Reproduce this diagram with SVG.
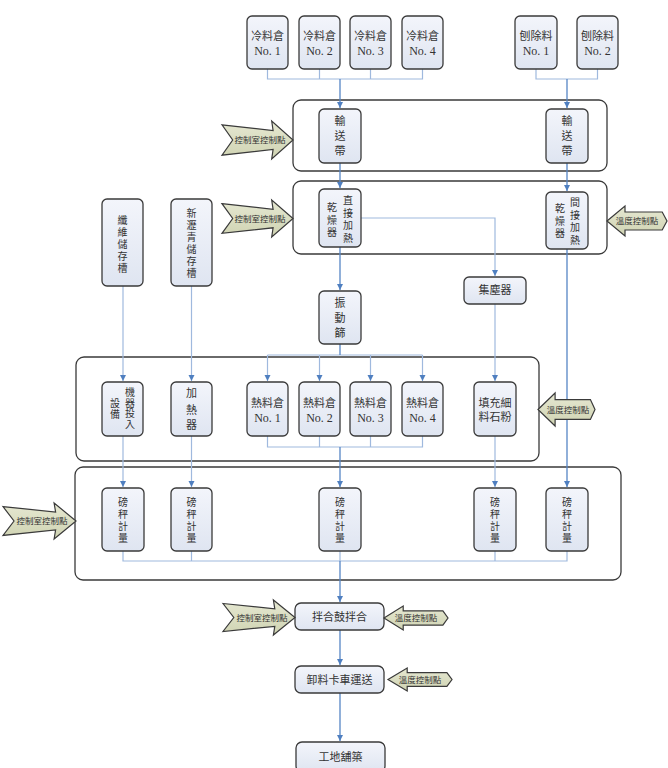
<svg xmlns="http://www.w3.org/2000/svg" width="668" height="768" viewBox="0 0 668 768">
<defs>
<linearGradient id="ng" x1="0" y1="0" x2="0" y2="1"><stop offset="0" stop-color="#f3f5fb"/><stop offset="1" stop-color="#dfe5f1"/></linearGradient>
<linearGradient id="ag" x1="0" y1="0" x2="0" y2="1"><stop offset="0" stop-color="#e6e8d2"/><stop offset="1" stop-color="#cfd3b2"/></linearGradient>
<marker id="ah" markerWidth="7" markerHeight="7" refX="6" refY="3.5" orient="auto" markerUnits="userSpaceOnUse"><path d="M0,0.5 L6,3.5 L0,6.5 Z" fill="#4f7fc0"/></marker>
</defs>
<style>
.frame{fill:#fff;stroke:#3a3a3a;stroke-width:1.3}
.node{fill:url(#ng);stroke:#3a3a3a;stroke-width:1.3}
.t{font-family:"Liberation Serif","Noto Sans CJK TC",serif;font-size:11px;fill:#333;text-anchor:middle}
.s{font-size:10px}
.ar{fill:url(#ag);stroke:#3a3a3a;stroke-width:1.2}
.at{font-family:"Noto Sans CJK TC",sans-serif;font-size:8.5px;fill:#333;text-anchor:middle}
.c{fill:none;stroke:#5585c5;stroke-width:1.3}
.b{fill:none;stroke:#9fb9de;stroke-width:1.2}
</style>
<rect width="668" height="768" fill="#fff"/>
<g id="frames">
<rect class="frame" x="293" y="100" width="314" height="71" rx="8"/>
<rect class="frame" x="293" y="181" width="314" height="73" rx="8"/>
<rect class="frame" x="76" y="357" width="463" height="104" rx="8"/>
<rect class="frame" x="75" y="467" width="546" height="113" rx="8"/>
</g>
<g id="connectors">
<path class="b" d="M267.5,69 V79 H422.5 V69 M319.5,69 V79 M370.5,69 V79"/>
<path class="b" d="M536,69 V79 H597.5 V69"/>
<path class="b" d="M267.5,355 H422.5"/>
<path class="b" d="M267.5,436 V447 H422.5 V436 M319.5,436 V447 M370.5,436 V447"/>
<path class="b" d="M123,551 V561 H567 V551 M191.5,551 V561 M340,551 V561 M495,551 V561"/>
<path class="b" d="M361,218 H495 V276" marker-end="url(#ah)"/>
<path class="c" d="M340,79 V108" marker-end="url(#ah)"/>
<path class="c" d="M567,79 V108" marker-end="url(#ah)"/>
<path class="c" d="M340,163 V188" marker-end="url(#ah)"/>
<path class="c" d="M567,163 V191" marker-end="url(#ah)"/>
<path class="c" d="M340,247 V290" marker-end="url(#ah)"/>
<path class="c" d="M340,344 V355"/>
<path class="b" d="M267.5,355 V381" marker-end="url(#ah)"/>
<path class="b" d="M319.5,355 V381" marker-end="url(#ah)"/>
<path class="b" d="M370.5,355 V381" marker-end="url(#ah)"/>
<path class="b" d="M422.5,355 V381" marker-end="url(#ah)"/>
<path class="b" d="M123,286 V381" marker-end="url(#ah)"/>
<path class="b" d="M191.5,286 V381" marker-end="url(#ah)"/>
<path class="b" d="M495,304 V381" marker-end="url(#ah)"/>
<path class="c" d="M567,249 V487" marker-end="url(#ah)"/>
<path class="b" d="M123,436 V487" marker-end="url(#ah)"/>
<path class="b" d="M191.5,436 V487" marker-end="url(#ah)"/>
<path class="c" d="M340,447 V487" marker-end="url(#ah)"/>
<path class="b" d="M495,436 V487" marker-end="url(#ah)"/>
<path class="c" d="M340,561 V602" marker-end="url(#ah)"/>
<path class="c" d="M340,630 V665" marker-end="url(#ah)"/>
<path class="c" d="M340,693 V741" marker-end="url(#ah)"/>
</g>
<g id="cold1"><rect class="node" x="247" y="16" width="41" height="53" rx="5"/><text class="t" x="267.5" y="40">冷料倉</text><text class="t" x="267.5" y="55" style="font-size:12px">No. 1</text></g>
<g id="cold2"><rect class="node" x="299" y="16" width="41" height="53" rx="5"/><text class="t" x="319.5" y="40">冷料倉</text><text class="t" x="319.5" y="55" style="font-size:12px">No. 2</text></g>
<g id="cold3"><rect class="node" x="350" y="16" width="41" height="53" rx="5"/><text class="t" x="370.5" y="40">冷料倉</text><text class="t" x="370.5" y="55" style="font-size:12px">No. 3</text></g>
<g id="cold4"><rect class="node" x="402" y="16" width="41" height="53" rx="5"/><text class="t" x="422.5" y="40">冷料倉</text><text class="t" x="422.5" y="55" style="font-size:12px">No. 4</text></g>
<g id="rap1"><rect class="node" x="515" y="16" width="42" height="53" rx="5"/><text class="t" x="536" y="40">刨除料</text><text class="t" x="536" y="55" style="font-size:12px">No. 1</text></g>
<g id="rap2"><rect class="node" x="577" y="16" width="41" height="53" rx="5"/><text class="t" x="597.5" y="40">刨除料</text><text class="t" x="597.5" y="55" style="font-size:12px">No. 2</text></g>
<g id="conv1"><rect class="node" x="319" y="109" width="42" height="54" rx="5"/><text class="t" x="340" y="125">輸</text><text class="t" x="340" y="140">送</text><text class="t" x="340" y="155">帶</text></g>
<g id="conv2"><rect class="node" x="546" y="109" width="42" height="54" rx="5"/><text class="t" x="567" y="125">輸</text><text class="t" x="567" y="140">送</text><text class="t" x="567" y="155">帶</text></g>
<g id="dryer1"><rect class="node" x="319" y="189" width="42" height="58" rx="5"/><text class="t s" x="348" y="204">直</text><text class="t s" x="348" y="216.5">接</text><text class="t s" x="348" y="229">加</text><text class="t s" x="348" y="241.5">熱</text><text class="t s" x="332" y="211">乾</text><text class="t s" x="332" y="223.5">燥</text><text class="t s" x="332" y="236">器</text></g>
<g id="dryer2"><rect class="node" x="546" y="192" width="42" height="57" rx="5"/><text class="t s" x="575" y="206">間</text><text class="t s" x="575" y="218.5">接</text><text class="t s" x="575" y="231">加</text><text class="t s" x="575" y="243.5">熱</text><text class="t s" x="560" y="212">乾</text><text class="t s" x="560" y="224.5">燥</text><text class="t s" x="560" y="237">器</text></g>
<g id="fiber"><rect class="node" x="102" y="199" width="41" height="87" rx="5"/><text class="t s" x="122.5" y="224">纖</text><text class="t s" x="122.5" y="236">維</text><text class="t s" x="122.5" y="248">儲</text><text class="t s" x="122.5" y="260">存</text><text class="t s" x="122.5" y="272">槽</text></g>
<g id="asphalt"><rect class="node" x="171" y="199" width="41" height="87" rx="5"/><text class="t s" x="191.5" y="217">新</text><text class="t s" x="191.5" y="229">瀝</text><text class="t s" x="191.5" y="241">青</text><text class="t s" x="191.5" y="253">儲</text><text class="t s" x="191.5" y="265">存</text><text class="t s" x="191.5" y="277">槽</text></g>
<g id="screen"><rect class="node" x="319" y="291" width="42" height="53" rx="5"/><text class="t" x="340" y="307">振</text><text class="t" x="340" y="322">動</text><text class="t" x="340" y="337">篩</text></g>
<g id="dust"><rect class="node" x="464" y="277" width="62" height="27" rx="5"/><text class="t" x="495" y="294">集塵器</text></g>
<g id="feeder"><rect class="node" x="102" y="382" width="41" height="54" rx="5"/><text class="t s" x="130" y="396">機</text><text class="t s" x="130" y="406.5">器</text><text class="t s" x="130" y="417">投</text><text class="t s" x="130" y="428">入</text><text class="t s" x="115" y="407">設</text><text class="t s" x="115" y="418">備</text></g>
<g id="heater"><rect class="node" x="171" y="382" width="41" height="54" rx="5"/><text class="t" x="191.5" y="397">加</text><text class="t" x="191.5" y="414">熱</text><text class="t" x="191.5" y="429">器</text></g>
<g id="hot1"><rect class="node" x="247" y="382" width="41" height="54" rx="5"/><text class="t" x="267.5" y="407">熱料倉</text><text class="t" x="267.5" y="422" style="font-size:12px">No. 1</text></g>
<g id="hot2"><rect class="node" x="299" y="382" width="41" height="54" rx="5"/><text class="t" x="319.5" y="407">熱料倉</text><text class="t" x="319.5" y="422" style="font-size:12px">No. 2</text></g>
<g id="hot3"><rect class="node" x="350" y="382" width="41" height="54" rx="5"/><text class="t" x="370.5" y="407">熱料倉</text><text class="t" x="370.5" y="422" style="font-size:12px">No. 3</text></g>
<g id="hot4"><rect class="node" x="402" y="382" width="41" height="54" rx="5"/><text class="t" x="422.5" y="407">熱料倉</text><text class="t" x="422.5" y="422" style="font-size:12px">No. 4</text></g>
<g id="filler"><rect class="node" x="474" y="382" width="42" height="54" rx="5"/><text class="t" x="495" y="407">填充細</text><text class="t" x="495" y="421">料石粉</text></g>
<g id="w1"><rect class="node" x="102" y="488" width="42" height="63" rx="5"/><text class="t s" x="123" y="506">磅</text><text class="t s" x="123" y="518">秤</text><text class="t s" x="123" y="530">計</text><text class="t s" x="123" y="542">量</text></g>
<g id="w2"><rect class="node" x="171" y="488" width="41" height="63" rx="5"/><text class="t s" x="191.5" y="506">磅</text><text class="t s" x="191.5" y="518">秤</text><text class="t s" x="191.5" y="530">計</text><text class="t s" x="191.5" y="542">量</text></g>
<g id="w3"><rect class="node" x="319" y="488" width="42" height="63" rx="5"/><text class="t s" x="340" y="506">磅</text><text class="t s" x="340" y="518">秤</text><text class="t s" x="340" y="530">計</text><text class="t s" x="340" y="542">量</text></g>
<g id="w4"><rect class="node" x="474" y="488" width="42" height="63" rx="5"/><text class="t s" x="495" y="506">磅</text><text class="t s" x="495" y="518">秤</text><text class="t s" x="495" y="530">計</text><text class="t s" x="495" y="542">量</text></g>
<g id="w5"><rect class="node" x="546" y="488" width="42" height="63" rx="5"/><text class="t s" x="567" y="506">磅</text><text class="t s" x="567" y="518">秤</text><text class="t s" x="567" y="530">計</text><text class="t s" x="567" y="542">量</text></g>
<g id="mixer"><rect class="node" x="295" y="603" width="89" height="27" rx="6"/><text class="t" x="339.5" y="621">拌合鼓拌合</text></g>
<g id="truck"><rect class="node" x="295" y="666" width="89" height="27" rx="6"/><text class="t" x="339.5" y="684">卸料卡車運送</text></g>
<g id="site"><rect class="node" x="296" y="742" width="89" height="30" rx="6"/><text class="t" x="340.5" y="761">工地舖築</text></g>
<g id="ctl1"><polygon class="ar" points="222,124.8 273.1,130.5 271.7,121 293,140 271.7,159 273.1,149.5 222,155.2 232.7,140"/><text class="at" x="260" y="143">控制室控制點</text></g>
<g id="ctl2"><polygon class="ar" points="222,203.7 273.1,209.3 271.7,200 293,218.5 271.7,237 273.1,227.8 222,233.3 232.7,218.5"/><text class="at" x="260" y="222">控制室控制點</text></g>
<g id="temp1"><polygon class="ar" points="607,221 625,206 625,212 662.2,212 667,221 662.2,230 625,230 625,236"/><text class="at" x="637" y="224">溫度控制點</text></g>
<g id="temp2"><polygon class="ar" points="538,409.5 555.1,393 555.1,399.6 590.4,399.6 595,409.5 590.4,419.4 555.1,419.4 555.1,426"/><text class="at" x="568" y="413">溫度控制點</text></g>
<g id="ctl3"><polygon class="ar" points="3,506.6 55.6,512 54.1,503 76,521 54.1,539 55.6,530 3,535.4 14,521"/><text class="at" x="42" y="524">控制室控制點</text></g>
<g id="ctl4"><polygon class="ar" points="223,603.5 274.8,608.8 273.4,600 295,617.5 273.4,635 274.8,626.3 223,631.5 233.8,617.5"/><text class="at" x="262" y="621">控制室控制點</text></g>
<g id="temp3"><polygon class="ar" points="384,618 403.2,606 403.2,610.8 442.9,610.8 448,618 442.9,625.2 403.2,625.2 403.2,630"/><text class="at" x="416" y="621">溫度控制點</text></g>
<g id="temp4"><polygon class="ar" points="388,679.5 407.2,668 407.2,672.6 446.9,672.6 452,679.5 446.9,686.4 407.2,686.4 407.2,691"/><text class="at" x="420" y="683">溫度控制點</text></g>
</svg>
